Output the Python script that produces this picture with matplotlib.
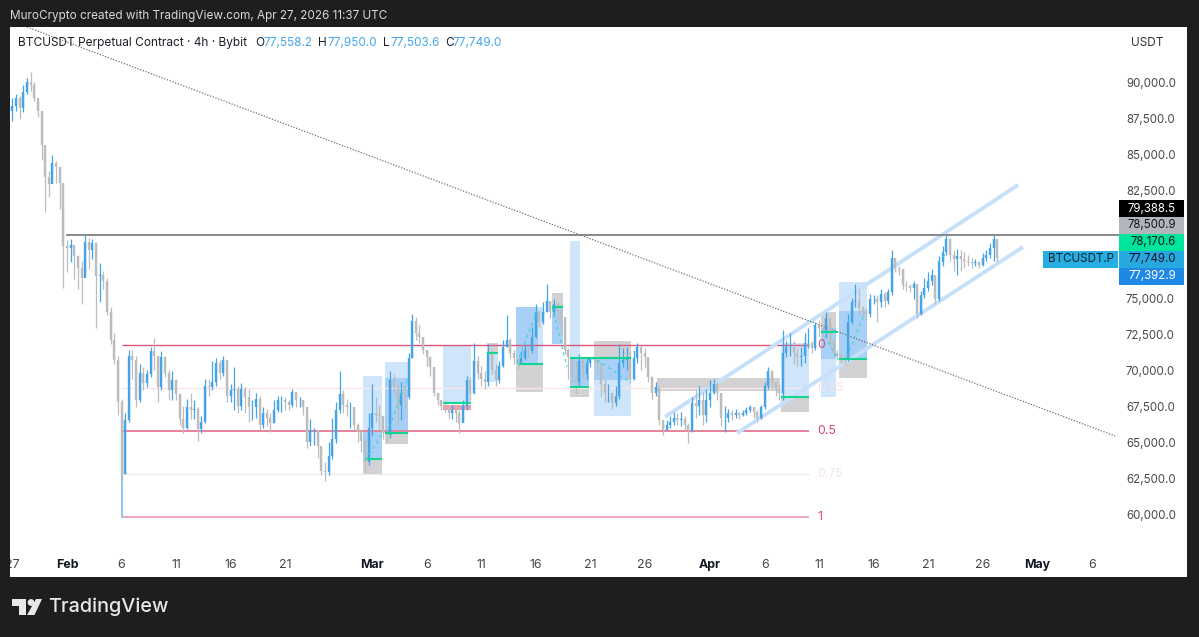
import numpy as np
import matplotlib
matplotlib.use("Agg")
import matplotlib.pyplot as plt
from matplotlib.patches import Rectangle, Polygon, Circle

plt.rcParams['font.family'] = ['Inter', 'DejaVu Sans']

# --- Precios en miles de USDT, una vela cada 8h desde Jan 27 (dia -5, Feb 1 = dia 0) ---
closes = [
    88.3, 88.9, 88.2, 89.3, 90.0, 89.8, 88.9, 88.0, 85.6, 83.4, 82.9, 84.4, 84.1, 83.0, 78.6,
    78.5, 78.7, 77.9, 77.1, 76.4, 78.9, 78.3, 78.8, 76.5, 76.6, 76.2, 74.0, 72.1, 70.7, 67.8,
    62.8, 66.5, 71.0, 70.7, 67.9, 69.8, 69.1, 69.7, 71.3, 71.0, 68.8, 70.9, 69.8, 68.6, 69.3,
    68.3, 66.6, 66.0, 67.4, 67.2, 67.3, 65.9, 66.4, 68.9, 68.8, 69.2, 70.5, 69.8, 70.7, 68.2,
    68.6, 68.7, 67.5, 68.7, 68.1, 67.4, 67.4, 68.0, 66.2, 67.0, 66.7, 66.3, 67.2, 67.9, 67.9,
    67.8, 67.6, 68.5, 67.9, 67.9, 67.4, 65.0, 65.8, 65.8, 64.7, 63.0, 62.9, 64.0, 65.2, 67.2,
    68.3, 67.6, 67.4, 67.4, 66.2, 65.7, 65.1, 63.6, 66.0, 67.0, 66.9, 66.8, 65.6, 65.5, 69.3,
    68.8, 67.6, 68.4, 68.1, 70.8, 73.4, 72.6, 72.3, 71.4, 70.9, 70.2, 68.4, 67.9, 67.5, 67.4,
    67.0, 67.2, 67.0, 66.3, 67.5, 69.3, 68.4, 70.6, 69.8, 69.4, 69.2, 71.2, 70.0, 69.3, 70.3,
    71.6, 72.1, 71.2, 70.8, 70.5, 70.8, 71.4, 71.3, 72.3, 74.0, 73.3, 74.0, 74.8, 74.0, 74.6,
    74.0, 73.7, 71.4, 70.9, 69.5, 69.2, 70.6, 69.7, 70.5, 70.8, 70.7, 70.5, 69.0, 68.4, 68.4,
    67.7, 68.2, 70.5, 70.7, 70.9, 69.4, 70.8, 71.6, 71.2, 70.9, 69.5, 68.4, 68.8, 66.5, 65.8,
    66.2, 66.4, 66.7, 66.5, 66.6, 66.2, 65.8, 67.7, 67.5, 67.9, 66.9, 67.9, 68.4, 69.0, 68.4,
    66.7, 66.7, 67.0, 66.9, 67.0, 66.9, 67.0, 67.2, 67.4, 67.1, 66.7, 67.4, 68.9, 69.9, 69.2,
    68.7, 68.4, 71.2, 71.6, 71.6, 71.2, 70.9, 71.0, 71.9, 71.9, 71.5, 73.1, 72.9, 72.6, 73.6,
    72.0, 71.2, 71.0, 70.8, 70.7, 73.3, 74.7, 74.8, 74.3, 74.0, 73.9, 74.9, 74.9, 74.7, 75.3,
    74.8, 75.4, 77.8, 77.1, 77.0, 75.9, 75.8, 75.7, 76.0, 73.9, 75.2, 75.7, 76.2, 76.6, 74.9,
    77.5, 78.2, 79.1, 78.0, 77.7, 77.9, 77.7, 77.6, 77.5, 77.4, 77.5, 77.3, 77.8, 78.0, 78.5,
    79.1, 77.75,
]
highs = [
    88.9, 89.2, 89.0, 89.8, 90.3, 90.7, 90.0, 88.6, 87.9, 85.1, 83.8, 84.9, 84.5, 84.2, 81.4,
    79.0, 79.1, 78.5, 78.0, 77.6, 79.4, 79.2, 79.1, 78.9, 77.4, 76.9, 76.4, 74.4, 72.6, 71.0,
    68.0, 67.0, 71.4, 71.4, 71.0, 70.4, 70.2, 70.0, 71.6, 72.2, 71.0, 71.3, 71.0, 70.0, 69.9,
    69.4, 68.4, 67.5, 68.0, 68.4, 67.9, 67.4, 66.8, 69.4, 69.4, 70.6, 70.8, 70.7, 71.0, 70.7,
    69.0, 70.2, 68.9, 69.1, 68.8, 68.7, 67.9, 68.4, 68.2, 67.4, 67.3, 67.0, 67.9, 68.2, 68.2,
    68.1, 67.9, 68.7, 68.4, 68.1, 67.9, 67.3, 66.6, 66.0, 65.5, 64.7, 63.6, 65.0, 66.7, 67.8,
    69.9, 68.6, 68.0, 67.8, 67.4, 66.3, 65.9, 65.4, 67.0, 69.0, 68.1, 67.6, 66.8, 66.2, 69.9,
    69.7, 69.0, 69.2, 68.9, 71.2, 73.9, 73.7, 73.1, 72.0, 71.3, 71.0, 70.0, 68.4, 67.9, 67.9,
    67.5, 67.6, 67.5, 67.2, 67.9, 69.6, 69.5, 71.9, 71.0, 70.3, 69.9, 71.8, 71.4, 70.4, 70.6,
    72.1, 73.8, 72.2, 71.4, 70.9, 71.3, 71.8, 71.7, 73.0, 74.6, 74.2, 74.7, 76.0, 74.8, 74.9,
    74.7, 74.6, 73.2, 71.5, 70.9, 70.6, 71.1, 70.9, 70.8, 70.9, 70.9, 70.7, 70.0, 69.4, 69.0,
    68.4, 68.9, 71.8, 71.5, 71.6, 71.3, 71.4, 71.9, 71.7, 71.5, 70.6, 69.6, 69.2, 68.8, 66.6,
    66.5, 66.8, 67.1, 67.0, 67.1, 66.8, 66.3, 68.1, 68.6, 68.9, 68.5, 68.7, 69.3, 69.4, 69.2,
    68.3, 67.5, 67.3, 67.2, 67.3, 67.1, 67.2, 67.4, 67.6, 67.4, 67.2, 67.6, 69.2, 70.2, 70.0,
    69.1, 69.0, 72.8, 72.0, 72.6, 72.0, 71.5, 71.6, 72.6, 72.9, 72.0, 73.3, 73.5, 73.2, 74.0,
    73.4, 72.2, 71.4, 71.2, 71.1, 73.9, 75.0, 76.0, 75.6, 74.5, 74.3, 75.3, 75.2, 75.2, 75.6,
    75.4, 75.6, 78.3, 77.7, 77.2, 77.0, 76.2, 76.0, 76.2, 75.8, 75.5, 76.4, 76.8, 77.0, 76.3,
    77.9, 78.6, 79.4, 79.2, 78.3, 78.4, 78.3, 78.2, 78.0, 77.8, 77.7, 77.6, 78.1, 78.3, 78.8,
    79.4, 78.0,
]
lows = [
    87.3, 88.0, 87.4, 87.9, 89.2, 89.4, 88.7, 87.6, 84.6, 81.0, 82.0, 83.1, 83.0, 81.2, 75.7,
    76.8, 77.5, 76.3, 75.6, 74.6, 76.6, 77.0, 77.7, 72.9, 74.7, 75.6, 73.8, 71.8, 70.4, 66.9,
    62.2, 62.8, 66.4, 69.4, 67.4, 67.8, 68.6, 68.8, 69.5, 70.0, 67.8, 68.6, 69.5, 67.9, 67.9,
    67.9, 66.2, 65.6, 65.9, 66.6, 66.6, 65.1, 65.6, 66.3, 68.2, 68.6, 68.9, 69.4, 69.6, 67.8,
    67.8, 67.2, 67.0, 67.2, 67.0, 66.4, 66.5, 66.7, 65.9, 66.0, 66.1, 65.7, 66.3, 67.1, 67.1,
    67.2, 67.2, 67.4, 67.4, 67.4, 66.9, 64.6, 64.7, 64.8, 63.9, 62.7, 62.3, 62.7, 63.8, 64.9,
    67.0, 67.0, 66.8, 66.0, 65.8, 65.0, 64.3, 62.9, 63.4, 65.4, 66.4, 65.9, 65.2, 65.0, 65.3,
    68.3, 66.2, 66.5, 67.3, 68.0, 70.8, 72.1, 71.9, 71.1, 70.3, 69.6, 68.2, 67.6, 67.2, 67.1,
    66.6, 66.6, 66.4, 65.6, 66.4, 67.2, 67.9, 68.3, 69.4, 68.9, 68.7, 68.9, 69.7, 68.9, 69.1,
    70.2, 71.6, 70.8, 70.4, 70.1, 70.4, 70.7, 70.9, 71.2, 72.2, 73.0, 73.2, 74.0, 73.6, 73.7,
    73.3, 72.4, 71.1, 69.4, 69.0, 68.4, 68.8, 69.4, 69.3, 70.2, 70.5, 69.8, 68.2, 67.8, 67.8,
    67.3, 67.5, 68.0, 70.2, 70.0, 69.1, 69.3, 70.5, 70.0, 70.2, 69.2, 68.0, 68.2, 66.2, 65.5,
    65.8, 66.0, 66.2, 66.2, 66.1, 65.8, 64.9, 65.7, 66.7, 66.9, 66.2, 66.4, 67.4, 68.3, 67.9,
    66.1, 65.7, 66.4, 66.5, 66.7, 66.6, 66.8, 66.9, 67.1, 66.7, 66.4, 66.6, 67.3, 68.7, 68.7,
    68.2, 67.9, 67.9, 70.9, 71.0, 70.4, 70.3, 70.3, 70.5, 71.5, 71.2, 71.4, 72.3, 72.2, 72.3,
    71.6, 71.0, 70.7, 70.5, 70.4, 70.6, 73.2, 74.4, 73.9, 73.7, 73.5, 73.7, 74.6, 73.3, 74.4,
    74.4, 74.6, 75.2, 76.8, 76.6, 75.6, 75.5, 75.4, 74.9, 73.6, 73.8, 75.0, 75.5, 75.9, 74.6,
    74.8, 77.2, 78.0, 77.6, 76.9, 76.6, 76.9, 77.1, 77.2, 77.1, 77.2, 77.1, 77.2, 77.6, 77.8,
    77.6, 77.5,
]
first_open = 88.0
first_day = -5

# --- Zonas dibujadas: (dia inicio, dia fin, precio bajo, precio alto) ---
light_zones = [
    (27.16, 28.90, 63.89, 69.58), (29.17, 31.28, 65.62, 70.56), (34.50, 37.06, 67.71, 71.74),
    (38.53, 39.54, 69.17, 71.18), (41.19, 43.67, 70.42, 74.37), (46.15, 47.06, 70.83, 78.96),
    (48.35, 51.70, 66.81, 70.83), (65.50, 68.07, 68.12, 71.87), (69.17, 70.55, 68.12, 72.92),
    (70.83, 73.39, 70.76, 76.11),
]
mid_zones = [
    (27.16, 28.90, 63.82, 65.83), (29.17, 31.28, 65.62, 69.44), (41.19, 43.21, 70.42, 74.37),
    (44.50, 45.50, 71.81, 74.37), (46.15, 47.89, 68.82, 70.83), (48.35, 51.70, 69.31, 70.83),
    (69.17, 70.55, 70.76, 72.92), (70.83, 73.39, 70.76, 74.10),
]
grey_zones = [
    (27.16, 28.90, 62.78, 63.82), (29.17, 31.28, 64.86, 65.62), (38.53, 39.54, 71.18, 71.87),
    (41.19, 43.67, 68.47, 70.42), (44.50, 45.50, 74.37, 75.35), (46.15, 47.89, 68.12, 68.82),
    (48.35, 51.70, 70.83, 72.01), (54.13, 65.41, 68.54, 69.44), (65.50, 68.07, 67.08, 68.12),
    (69.17, 70.55, 72.92, 74.03), (70.83, 73.39, 69.44, 70.76),
]
pink_zones = [(34.50, 37.06, 67.22, 67.57)]
# (dia inicio, dia fin, precio)
green_levels = [
    (27.50, 28.90, 63.82), (29.17, 31.28, 65.62), (34.50, 37.06, 67.71), (38.53, 39.54, 71.18),
    (41.50, 43.67, 70.42), (44.50, 45.50, 74.37), (46.15, 47.89, 68.82), (46.15, 51.70, 70.83),
    (65.50, 68.07, 68.12), (69.17, 70.75, 72.64), (70.83, 73.39, 70.76),
]
# (dia, precio, dia, precio)
dashed_segments = [
    (27.34, 63.75, 28.99, 65.62), (29.36, 65.62, 31.28, 69.44), (41.28, 70.49, 43.21, 74.31),
    (44.50, 74.37, 45.87, 70.21), (48.62, 70.69, 51.65, 69.17), (69.27, 72.78, 70.73, 70.69),
    (71.56, 70.90, 73.03, 73.68), (79.90, 77.50, 80.55, 77.99),
]
channel_lines = [(54.86, 66.74, 87.25, 82.85), (61.47, 65.62, 87.70, 78.54)]
trend_line = (-3.67, 93.82, 96.15, 65.42)
resistance = 79.3885
resistance_start = 0
fib_start = 5.0
fib_end = 68.07
fib_prices = [71.77, 68.78, 65.78, 62.79, 59.80]
fib_labels = ['0', '0.25', '0.5', '0.75', '1']

# --- Ejes ---
price_ticks = [90, 87.5, 85, 82.5, 75, 72.5, 70, 67.5, 65, 62.5, 60]
date_ticks = [-5, 0, 5, 10, 15, 20, 28, 33, 38, 43, 48, 53, 59, 64, 69, 74, 79, 84, 89, 94]
date_labels = ['27', 'Feb', '6', '11', '16', '21', 'Mar', '6', '11', '16', '21', '26',
               'Apr', '6', '11', '16', '21', '26', 'May', '6']
month_labels = ['Feb', 'Mar', 'Apr', 'May']

# Etiquetas de la escala: (texto, fondo, color de texto)
price_tags = [
    ('79,388.5', '#000000', '#ffffff'),
    ('78,500.9', '#b2b5be', '#131722'),
    ('78,170.6', '#00e599', '#131722'),
    ('77,749.0', '#26a9e0', '#131722'),
    ('77,392.9', '#1e88e5', '#ffffff'),
]
ohlc_letters = ['O', 'H', 'L', 'C']
ohlc_values = ['77,558.2', '77,950.0', '77,503.6', '77,749.0']

W, H = 1199, 637
DARK = '#1e1e1e'
BLUE = '#45a3e8'
GREY = '#bcbcbc'

fig = plt.figure(figsize=(W / 100, H / 100), dpi=100, facecolor=DARK)

# Fondo y textos fijos en coordenadas de pixel
bg = fig.add_axes([0, 0, 1, 1], zorder=0)
bg.set_xlim(0, W)
bg.set_ylim(H, 0)
bg.axis('off')
bg.add_patch(Rectangle((1119, 27), 68, 550, fc='white', ec='none'))
bg.text(10, 15.5, 'MuroCrypto created with TradingView.com, Apr 27, 2026 11:37 UTC',
        color='#d8d8d8', fontsize=8.45, va='center')

# Grafico principal
ax = fig.add_axes([10 / W, (H - 577) / H, 1109 / W, 550 / H], zorder=1, facecolor='white')
ax.set_xlim(-5.229, 96.51)
ax.set_ylim(55.625, 93.82)
for spine in ax.spines.values():
    spine.set_visible(False)


def draw_zones(zones, color, z):
    for d0, d1, lo, hi in zones:
        ax.add_patch(Rectangle((d0, lo), d1 - d0, hi - lo, fc=color, ec='none', zorder=z))


draw_zones(light_zones, '#cfe5fa', 1)
draw_zones(mid_zones, '#a8d0f6', 1.1)
draw_zones(grey_zones, '#d2d2d5', 1.2)
draw_zones(pink_zones, '#f29ab0', 1.2)

# Lineas fibonacci
fib_colors = ['#d8567a', '#f8e6ea', '#e8829c', '#efe6e8', '#ea8fa8']
fib_widths = [1.0, 1.0, 1.4, 0.9, 1.1]
text_colors = ['#d2486f', '#f8dfe5', '#d2486f', '#f5e4e8', '#d2486f']
for price, col, lw, name, tcol in zip(fib_prices, fib_colors, fib_widths, fib_labels, text_colors):
    ax.plot([fib_start, fib_end], [price, price], color=col, lw=lw, zorder=1.5, solid_capstyle='butt')
    ax.text(fib_end + 0.75, price, name, color=tcol, fontsize=8.8, va='center', zorder=5)
ax.plot([fib_start, fib_start], [closes[30], fib_prices[-1]], color='#6cbcec', lw=1.1, zorder=1.5)

# Canal y lineas de tendencia
for d0, p0, d1, p1 in channel_lines:
    ax.plot([d0, d1], [p0, p1], color='#c6e0f9', lw=2.8, zorder=1.6, solid_capstyle='butt')
ax.plot(trend_line[0::2], trend_line[1::2], color='#6f6f6f', lw=0.9, ls=(0, (1, 1.3)), zorder=1.7)
ax.plot([resistance_start, ax.get_xlim()[1]], [resistance, resistance], color='#7f7f7f', lw=1.3, zorder=1.7)

for d0, p0, d1, p1 in dashed_segments:
    ax.plot([d0, d1], [p0, p1], color='#3ed2cf', lw=0.8, ls=(0, (3, 3)), zorder=3)
for d0, d1, price in green_levels:
    ax.plot([d0, d1], [price, price], color='#12d690', lw=1.5, zorder=3, solid_capstyle='butt')

# Velas
days = first_day + np.arange(len(closes)) / 3
c = np.array(closes)
o = np.r_[first_open, c[:-1]]
h = np.array(highs)
l = np.array(lows)
up = c >= o
for mask, col in ((~up, GREY), (up, BLUE)):
    ax.vlines(days[mask], l[mask], h[mask], color=col, lw=0.9, zorder=2)
    ax.vlines(days[mask], np.minimum(o, c)[mask], np.maximum(o, c)[mask], color=col, lw=1.7, zorder=2)

# Ticks
ax.yaxis.tick_right()
ax.set_yticks(price_ticks)
ax.set_yticklabels([f'{p * 1000:,.1f}' for p in price_ticks])
ax.tick_params(axis='y', length=0, pad=5, labelsize=8.3, labelcolor='#4a4a4a')
ax.set_xticks(date_ticks)
ax.set_xticklabels(date_labels)
ax.tick_params(axis='x', length=0, pad=-13, labelsize=8.9, labelcolor='#444444')
for label in ax.get_xticklabels():
    label.set_clip_box(ax.bbox)
    label.set_clip_on(True)
    if label.get_text() in month_labels:
        label.set_fontweight('bold')
        label.set_color('#131722')

# Capa superior: leyenda, etiquetas de precio y logo
top = fig.add_axes([0, 0, 1, 1], zorder=2)
top.set_xlim(0, W)
top.set_ylim(H, 0)
top.axis('off')
top.patch.set_alpha(0)

top.text(18, 43, 'BTCUSDT Perpetual Contract · 4h · Bybit', color='#1c1f26', fontsize=8.55, va='center')
for letter, value, lx, vx in zip(ohlc_letters, ohlc_values, [255, 318, 383, 445], [263, 327, 390, 452]):
    top.text(lx, 43, letter, color='#1c1f26', fontsize=8.5, va='center')
    top.text(vx, 43, value, color='#46a6ea', fontsize=8.5, va='center')
top.text(1131, 43, 'USDT', color='#333333', fontsize=8.5, va='center')

for i, (txt, bgc, fgc) in enumerate(price_tags):
    y0 = 200 + i * 16.9
    top.add_patch(Rectangle((1118.5, y0), 65.5, 16.9, fc=bgc, ec='none'))
    top.text(1176, y0 + 8.6, txt, color=fgc, fontsize=8.3, ha='right', va='center')
top.add_patch(Rectangle((1043, 251), 75, 16.5, fc='#26aee2', ec='none'))
top.text(1048, 259.5, 'BTCUSDT.P', color='#10202c', fontsize=8.4, va='center')

# Logo de TradingView
logo = '#e8e8e8'
top.add_patch(Polygon([(12, 599), (26, 599), (26, 615), (19, 615), (19, 606), (12, 606)], fc=logo, ec='none'))
top.add_patch(Circle((31, 602.5), 3.4, fc=logo, ec='none'))
top.add_patch(Polygon([(27, 615), (34.5, 615), (42, 599), (36, 599)], fc=logo, ec='none'))
top.text(48, 607, 'TradingView', color=logo, fontsize=14.3, fontweight='medium', va='center')

fig.savefig('out.png', dpi=100, facecolor=DARK)
